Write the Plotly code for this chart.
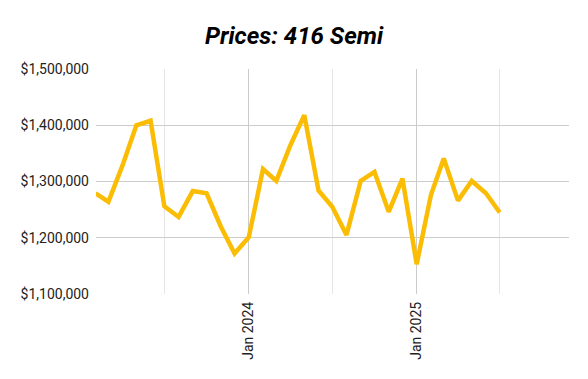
import plotly.graph_objects as go

months = ["2023-02-01", "2023-03-01", "2023-04-01", "2023-05-01", "2023-06-01", "2023-07-01",
          "2023-08-01", "2023-09-01", "2023-10-01", "2023-11-01", "2023-12-01", "2024-01-01",
          "2024-02-01", "2024-03-01", "2024-04-01", "2024-05-01", "2024-06-01", "2024-07-01",
          "2024-08-01", "2024-09-01", "2024-10-01", "2024-11-01", "2024-12-01", "2025-01-01",
          "2025-02-01", "2025-03-01", "2025-04-01", "2025-05-01", "2025-06-01", "2025-07-01"]
prices = [1279000, 1264000, 1329000, 1400000, 1408000, 1256000,
          1237000, 1283000, 1279000, 1220000, 1172000, 1201000,
          1322000, 1301000, 1365000, 1418000, 1284000, 1255000,
          1205000, 1301000, 1317000, 1246000, 1305000, 1153000,
          1276000, 1341000, 1266000, 1301000, 1279000, 1245000]

fig = go.Figure()
fig.add_trace(go.Scatter(
    x=months, y=prices, mode="lines",
    line=dict(color="#FBBC04", width=4.5),
    hoverinfo="x+y", showlegend=False,
))

fig.update_layout(
    width=588, height=379,
    margin=dict(l=96, r=19, t=69, b=85, autoexpand=False),
    paper_bgcolor="white", plot_bgcolor="white",
    font=dict(family="Roboto", size=14, color="#222222"),
    title=dict(text="Prices: 416 Semi", x=0.5, xanchor="center", y=0.907, yanchor="middle",
               font=dict(family="Roboto", size=24, color="#000000", weight="bold", style="italic")),
)
fig.update_xaxes(
    type="date", range=["2023-02-02", "2025-11-29"], automargin=False,
    tick0="2024-01-01", dtick="M12", tickformat="%b %Y", tickangle=-90,
    showgrid=True, gridcolor="#cccccc", gridwidth=1,
    minor=dict(dtick="M6", tick0="2023-07-01", showgrid=True, gridcolor="#e6e6e6", gridwidth=1),
    ticks="", showline=False, zeroline=False, ticklabelstandoff=4,
    tickfont=dict(size=14, color="#222222"),
)
fig.update_yaxes(
    range=[1100000, 1500000], dtick=100000, tickprefix="$", tickformat=",", automargin=False,
    showgrid=True, gridcolor="#cccccc", gridwidth=1,
    ticks="", showline=False, zeroline=False, ticklabelstandoff=6,
    tickfont=dict(size=14, color="#222222"),
)

fig.write_html("out.html", post_script="document.body.style.margin='0';",
               config={"displayModeBar": False})
